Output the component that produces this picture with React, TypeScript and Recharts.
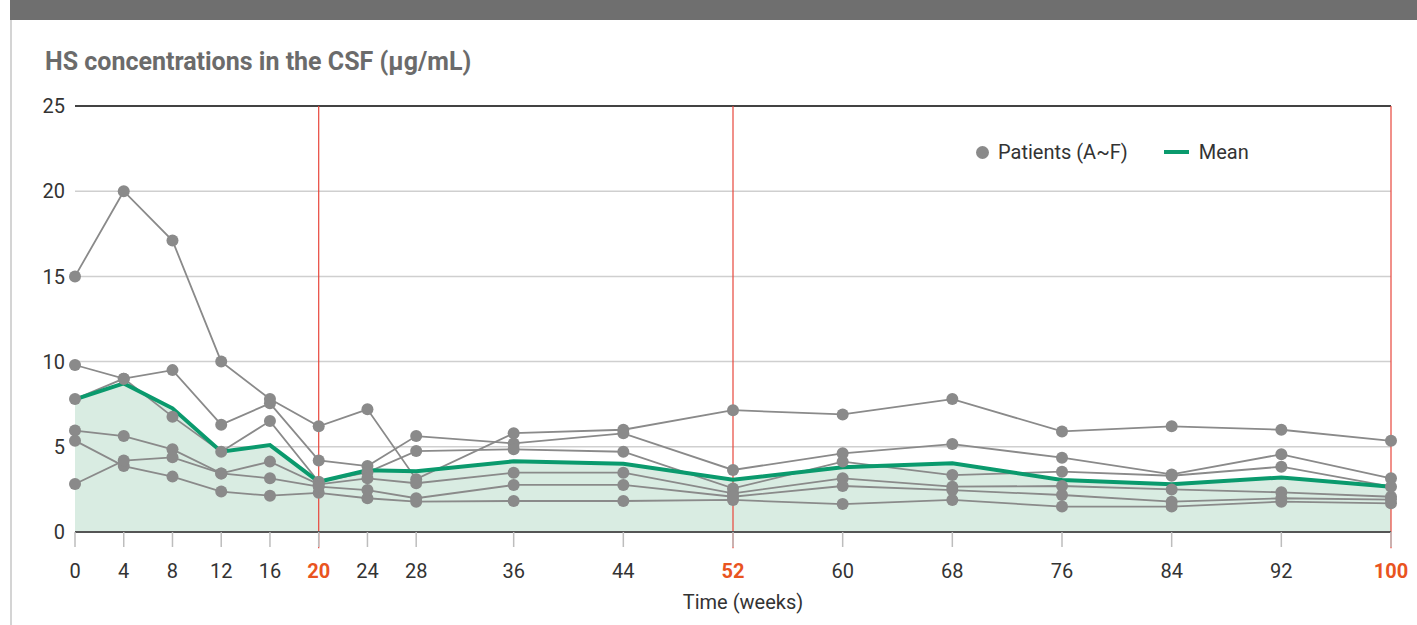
import React from "react";
import {
  ComposedChart,
  Area,
  Line,
  XAxis,
  YAxis,
  CartesianGrid,
  ReferenceLine,
} from "recharts";

const FONT = "Roboto, 'Noto Sans', sans-serif";

// sampling visits (weeks)
const weeks = [0, 4, 8, 12, 16, 20, 24, 28, 36, 44, 52, 60, 68, 76, 84, 92, 100];
const highlightWeeks = [20, 52, 100];
const yTicks = [0, 5, 10, 15, 20, 25];

// HS in CSF per patient (µg/mL)
const patientA = [15.0, 20.0, 17.1, 10.0, 7.8, 6.2, 7.2, 3.1, 5.8, 6.0, 7.15, 6.9, 7.8, 5.9, 6.2, 6.0, 5.35];
const patientB = [9.8, 9.0, 9.5, 6.3, 7.55, 4.2, 3.87, 5.63, 5.2, 5.79, 3.64, 4.62, 5.16, 4.36, 3.38, 4.56, 3.15];
const patientC = [7.8, 9.0, 6.77, 4.71, 6.51, 2.95, 3.5, 4.75, 4.85, 4.71, 2.56, 4.13, 3.34, 3.54, 3.3, 3.83, 2.66];
const patientD = [5.95, 5.63, 4.85, 3.44, 4.13, 2.8, 3.15, 2.86, 3.48, 3.48, 2.27, 3.15, 2.66, 2.7, 2.5, 2.33, 2.07];
const patientE = [5.36, 3.87, 3.25, 2.37, 2.13, 2.3, 1.98, 1.78, 1.82, 1.82, 1.88, 1.64, 1.88, 1.49, 1.49, 1.78, 1.68];
const patientF = [2.82, 4.19, 4.38, 3.44, 3.15, 2.66, 2.46, 1.98, 2.76, 2.76, 2.07, 2.7, 2.46, 2.17, 1.78, 1.98, 1.9];
const meanValues = [7.78, 8.72, 7.26, 4.71, 5.1, 2.95, 3.62, 3.56, 4.15, 4.0, 3.07, 3.8, 4.03, 3.05, 2.8, 3.2, 2.66];

const patients = [
  { key: "A", values: patientA },
  { key: "B", values: patientB },
  { key: "C", values: patientC },
  { key: "D", values: patientD },
  { key: "E", values: patientE },
  { key: "F", values: patientF },
];

const data = weeks.map((week, i) => {
  const row: Record<string, number> = { week, mean: meanValues[i] };
  patients.forEach((p) => {
    row[p.key] = p.values[i];
  });
  return row;
});

// time axis is drawn in two stretches: weeks 0-36 fill the first third,
// weeks 36-100 the remaining two thirds
const BREAK_WEEK = 36;
const BREAK_SHARE = 1 / 3;

function weekFraction(w: number) {
  if (w <= BREAK_WEEK) return (w / BREAK_WEEK) * BREAK_SHARE;
  return BREAK_SHARE + ((w - BREAK_WEEK) / (100 - BREAK_WEEK)) * (1 - BREAK_SHARE);
}

function weekScale(): any {
  let dom = [0, 100];
  let rng = [0, 1];
  const scale: any = (v: number) => {
    const f0 = weekFraction(dom[0]);
    const f1 = weekFraction(dom[dom.length - 1]);
    const t = (weekFraction(v) - f0) / (f1 - f0);
    return rng[0] + t * (rng[rng.length - 1] - rng[0]);
  };
  scale.domain = (d?: number[]) => {
    if (d === undefined) return dom.slice();
    dom = d.map(Number);
    return scale;
  };
  scale.range = (r?: number[]) => {
    if (r === undefined) return rng.slice();
    rng = r.map(Number);
    return scale;
  };
  scale.copy = () => weekScale().domain(dom).range(rng);
  scale.ticks = () => weeks.slice();
  scale.tickFormat = () => (v: number) => String(v);
  scale.nice = () => scale;
  scale.clamp = () => scale;
  scale.invert = (px: number) => {
    const t = (px - rng[0]) / (rng[rng.length - 1] - rng[0]);
    const f = weekFraction(dom[0]) + t * (weekFraction(dom[dom.length - 1]) - weekFraction(dom[0]));
    if (f <= BREAK_SHARE) return (f / BREAK_SHARE) * BREAK_WEEK;
    return BREAK_WEEK + ((f - BREAK_SHARE) / (1 - BREAK_SHARE)) * (100 - BREAK_WEEK);
  };
  return scale;
}

const WeekTick = (props: any) => {
  const { x, y, payload } = props;
  const hot = highlightWeeks.includes(payload.value);
  return (
    <text
      x={x}
      y={y}
      dy="0.71em"
      textAnchor="middle"
      fontSize={20}
      fontFamily={FONT}
      fill={hot ? "#e9541f" : "#333"}
      fontWeight={hot ? 700 : 400}
    >
      {payload.value}
    </text>
  );
};

export default function App() {
  return (
    <div
      style={{
        position: "absolute",
        left: 0,
        top: 0,
        width: 1417,
        height: 625,
        background: "#fff",
        fontFamily: FONT,
        overflow: "hidden",
      }}
    >
      <div style={{ position: "absolute", left: 10, top: 0, width: 1407, height: 20, background: "#6f6f6f" }} />
      <div style={{ position: "absolute", left: 10, top: 20, width: 2, height: 605, background: "#d4d4d4" }} />
      <div
        style={{
          position: "absolute",
          left: 45,
          top: 47,
          fontSize: 25,
          fontWeight: 700,
          color: "#6b6b6b",
          whiteSpace: "nowrap",
        }}
      >
        HS concentrations in the CSF (μg/mL)
      </div>

      <ComposedChart
        width={1417}
        height={625}
        data={data}
        margin={{ top: 106, right: 26, bottom: 13, left: 15 }}
        style={{ position: "absolute", left: 0, top: 0 }}
      >
        <CartesianGrid vertical={false} stroke="#cfcfcf" strokeWidth={1.5} />
        <XAxis
          dataKey="week"
          type="number"
          scale={weekScale()}
          domain={[0, 100]}
          ticks={weeks}
          interval={0}
          height={80}
          tickSize={15}
          tickMargin={17}
          tick={<WeekTick />}
          tickLine={{ stroke: "#bdbdbd", strokeWidth: 1.5 }}
          axisLine={{ stroke: "#555", strokeWidth: 2 }}
          label={{
            value: "Time (weeks)",
            position: "insideBottom",
            offset: 3,
            dx: 10,
            fontSize: 20,
            fill: "#333",
            fontFamily: FONT,
          }}
        />
        <YAxis
          type="number"
          domain={[0, 25]}
          ticks={yTicks}
          width={60}
          tickSize={0}
          tickMargin={10}
          axisLine={false}
          tickLine={false}
          tick={{ fontSize: 20, fill: "#333", fontFamily: FONT }}
        />
        <ReferenceLine y={25} stroke="#111" strokeWidth={1.5} />
        {highlightWeeks.map((w) => (
          <ReferenceLine
            key={w}
            segment={[
              { x: w, y: -0.95 },
              { x: w, y: 25 },
            ]}
            ifOverflow="visible"
            stroke="#e8463b"
            strokeWidth={1.2}
          />
        ))}
        <Area
          dataKey="mean"
          type="linear"
          fill="#d9ece2"
          fillOpacity={1}
          stroke="none"
          isAnimationActive={false}
        />
        {patients.map((p) => (
          <Line
            key={p.key}
            dataKey={p.key}
            type="linear"
            stroke="#8a8a8a"
            strokeWidth={1.8}
            dot={{ r: 6, fill: "#8a8a8a", stroke: "none" }}
            activeDot={false}
            isAnimationActive={false}
          />
        ))}
        <Line
          dataKey="mean"
          type="linear"
          stroke="#0a9a6d"
          strokeWidth={4}
          dot={false}
          activeDot={false}
          isAnimationActive={false}
        />
      </ComposedChart>

      <div
        style={{
          position: "absolute",
          left: 976,
          top: 140,
          display: "flex",
          alignItems: "center",
          fontSize: 20,
          color: "#333",
          whiteSpace: "nowrap",
        }}
      >
        <span style={{ width: 13, height: 13, borderRadius: "50%", background: "#8a8a8a", marginRight: 9 }} />
        <span>Patients (A~F)</span>
        <span style={{ width: 25, height: 4, background: "#0a9a6d", marginLeft: 36, marginRight: 10 }} />
        <span>Mean</span>
      </div>
    </div>
  );
}
